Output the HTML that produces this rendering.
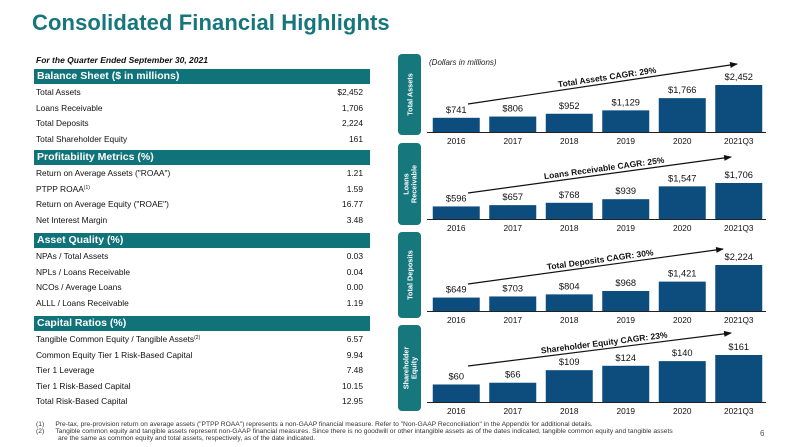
<!DOCTYPE html>
<html><head><meta charset="utf-8">
<style>
body{margin:0;width:797px;height:447px;background:#fff;position:relative;overflow:hidden;font-family:"Liberation Sans",sans-serif;color:#111}
.abs{position:absolute}
#title{left:32px;top:10px;font-size:22px;font-weight:bold;color:#16767c;letter-spacing:0.1px}
#sub{left:36px;top:55px;font-size:8.5px;font-weight:bold;font-style:italic}
.hdr{position:absolute;left:34px;width:336px;height:15px;background:#10737a;color:#fff;font-size:10.5px;font-weight:bold;line-height:15px;padding-left:3px;box-sizing:border-box}
.row{position:absolute;left:36px;width:327px;font-size:8.4px;height:12px;line-height:12px}
.row span.v{position:absolute;right:0}
.row sup{font-size:5px;vertical-align:baseline;position:relative;top:-3px;line-height:0}
.fn{position:absolute;font-size:6.7px;color:#333;line-height:7px;white-space:nowrap}
</style></head><body>
<div id="title" class="abs">Consolidated Financial Highlights</div>
<div id="sub" class="abs">For the Quarter Ended September 30, 2021</div>
<div id="table"></div>
<svg id="charts" class="abs" style="left:0;top:0" width="797" height="447"></svg>
<div class="fn" style="left:36px;top:421px">(1)&nbsp;&nbsp;&nbsp;&nbsp;&nbsp;&nbsp;Pre-tax, pre-provision return on average assets ("PTPP ROAA") represents a non-GAAP financial measure. Refer to "Non-GAAP Reconciliation" in the Appendix for additional details.</div>
<div class="fn" style="left:36px;top:428px">(2)&nbsp;&nbsp;&nbsp;&nbsp;&nbsp;&nbsp;Tangible common equity and tangible assets represent non-GAAP financial measures. Since there is no goodwill or other intangible assets as of the dates indicated, tangible common equity and tangible assets</div>
<div class="fn" style="left:58px;top:435px">are the same as common equity and total assets, respectively, as of the date indicated.</div>
<div class="abs" style="left:760px;top:429px;font-size:8px;color:#555">6</div>
<script>
const sections=[
 {t:"Balance Sheet ($ in millions)",y:69,rows:[["Total Assets","$2,452"],["Loans Receivable","1,706"],["Total Deposits","2,224"],["Total Shareholder Equity","161"]]},
 {t:"Profitability Metrics (%)",y:150,rows:[["Return on Average Assets (\"ROAA\")","1.21"],["PTPP ROAA<sup>(1)</sup>","1.59"],["Return on Average Equity (\"ROAE\")","16.77"],["Net Interest Margin","3.48"]]},
 {t:"Asset Quality (%)",y:233,rows:[["NPAs / Total Assets","0.03"],["NPLs / Loans Receivable","0.04"],["NCOs / Average Loans","0.00"],["ALLL / Loans Receivable","1.19"]]},
 {t:"Capital Ratios (%)",y:316,rows:[["Tangible Common Equity / Tangible Assets<sup>(2)</sup>","6.57"],["Common Equity Tier 1 Risk-Based Capital","9.94"],["Tier 1 Leverage","7.48"],["Tier 1 Risk-Based Capital","10.15"],["Total Risk-Based Capital","12.95"]]}
];
const tb=document.getElementById('table');
sections.forEach((s,si)=>{
  const h=document.createElement('div');h.className='hdr';h.style.top=s.y+'px';h.textContent=s.t;
  
  
  tb.appendChild(h);
  s.rows.forEach((r,i)=>{
    const d=document.createElement('div');d.className='row';d.style.top=(s.y+17+i*15.5)+'px';
    d.innerHTML=r[0]+'<span class="v">'+r[1]+'</span>';
    
    
    tb.appendChild(d);
  });
});

// chart data
const categories=["2016","2017","2018","2019","2020","2021Q3"];
const assets=[741,806,952,1129,1766,2452];
const loans=[596,657,768,939,1547,1706];
const deposits=[649,703,804,968,1421,2224];
const equity=[60,66,109,124,140,161];
const assetsLabels=["$741","$806","$952","$1,129","$1,766","$2,452"];
const loansLabels=["$596","$657","$768","$939","$1,547","$1,706"];
const depositsLabels=["$649","$703","$804","$968","$1,421","$2,224"];
const equityLabels=["$60","$66","$109","$124","$140","$161"];
const tabNames=[["Total Assets"],["Loans","Receivable"],["Total Deposits"],["Shareholder","Equity"]];
const cagrLabels=["Total Assets CAGR: 29%","Loans Receivable CAGR: 25%","Total Deposits CAGR: 30%","Shareholder Equity CAGR: 23%"];

const panels=[
 {vals:assets,labs:assetsLabels,base:132,tabTop:54,tabH:81,maxH:47,a:[468,104,737,64]},
 {vals:loans,labs:loansLabels,base:219,tabTop:143,tabH:82,maxH:36,a:[468,193,731,157]},
 {vals:deposits,labs:depositsLabels,base:311,tabTop:232,tabH:86,maxH:46,a:[468,284,723,249]},
 {vals:equity,labs:equityLabels,base:402,tabTop:325,tabH:86,maxH:47,a:[468,366,731,333]}
];
const svg=document.getElementById('charts');
const NS="http://www.w3.org/2000/svg";
function el(tag,attrs,parent){const e=document.createElementNS(NS,tag);for(const k in attrs)e.setAttribute(k,attrs[k]);(parent||svg).appendChild(e);return e;}
const defs=el('defs',{});
const mk=el('marker',{id:'arr',markerWidth:8,markerHeight:6,refX:7,refY:3,orient:'auto',markerUnits:'userSpaceOnUse'},defs);
el('path',{d:'M0,0 L8,3 L0,6 Z',fill:'#111'},mk);
const t0=el('text',{x:429,y:65,'font-size':8,'font-style':'italic',fill:'#222'});
t0.textContent="(Dollars in millions)";



const x0=427,x1=766,step=(x1-x0)/categories.length,bw=47;
function xScale(i){return x0+step*i+(step-bw)/2+1;}
panels.forEach((p,pi)=>{
  const g=el('g',{});
  
  
  const tab=el('rect',{x:398,y:p.tabTop,width:23,height:p.tabH,rx:4,fill:'#16777d'},g);
  
  
  const cy=p.tabTop+p.tabH/2, names=tabNames[pi];
  names.forEach((n,k)=>{
    const tx=409.5+(k-(names.length-1)/2)*8+3;
    const t=el('text',{x:tx,y:cy,'font-size':7.3,'font-weight':'bold',fill:'#fff','text-anchor':'middle',transform:`rotate(-90 ${tx} ${cy})`},g);
    t.textContent=n;
  });
  const mx=Math.max(...p.vals);
  const yS=v=>p.base-v/mx*p.maxH;
  p.vals.forEach((v,i)=>{
    const r=el('rect',{x:xScale(i),y:yS(v),width:bw,height:p.base-yS(v),fill:'#0d4d7e'},g);
    
    
    const t=el('text',{x:xScale(i)+bw/2,y:yS(v)-5,'font-size':9.3,'text-anchor':'middle',fill:'#111'},g);
    t.textContent=p.labs[i];
    const c=el('text',{x:xScale(i)+bw/2,y:p.base+12,'font-size':8.3,'text-anchor':'middle',fill:'#111'},g);
    c.textContent=categories[i];
  });
  el('line',{x1:x0,y1:p.base+0.5,x2:x1,y2:p.base+0.5,stroke:'#222','stroke-width':1},g);
  const a=p.a;
  el('line',{x1:a[0],y1:a[1],x2:a[2],y2:a[3],stroke:'#111','stroke-width':1.2,'marker-end':'url(#arr)'},g);
  const ang=Math.atan2(a[3]-a[1],a[2]-a[0])*180/Math.PI;
  const mxp=(a[0]+a[2])/2+5, myp=(a[1]+a[3])/2-4;
  const ct=el('text',{x:mxp,y:myp,'font-size':8.5,'font-weight':'bold','text-anchor':'middle',fill:'#111',transform:`rotate(${ang} ${mxp} ${myp})`},g);
  ct.textContent=cagrLabels[pi];
  
  
});
</script>
</body></html>
